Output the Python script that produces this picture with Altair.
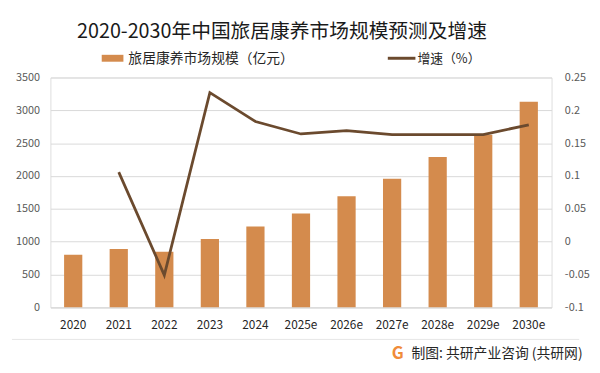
import altair as alt
import pandas as pd

years = ["2020", "2021", "2022", "2023", "2024", "2025e", "2026e", "2027e", "2028e", "2029e", "2030e"]
market_size = [800, 890, 845, 1040, 1230, 1430, 1690, 1960, 2290, 2630, 3130]
growth = [None, 0.106, -0.051, 0.227, 0.183, 0.164, 0.169, 0.163, 0.163, 0.163, 0.178]

left_ticks = [0, 500, 1000, 1500, 2000, 2500, 3000, 3500]
right_ticks = [-0.1, -0.05, 0, 0.05, 0.1, 0.15, 0.2, 0.25]

title_text = "2020-2030年中国旅居康养市场规模预测及增速"
legend_bar = "旅居康养市场规模（亿元）"
legend_line = "增速（%）"
footer_text = "制图: 共研产业咨询 (共研网)"

FONT = "Noto Sans CJK SC"
BAR_COLOR = "#D48B4D"
LINE_COLOR = "#6B4A2E"

df = pd.DataFrame({"year": years, "size": market_size, "growth": growth})

x_enc = alt.X(
    "year:N",
    sort=years,
    scale=alt.Scale(paddingInner=0.6, paddingOuter=0.3),
    axis=alt.Axis(
        title=None, labelAngle=0, ticks=False, domain=True, domainColor="#d9d9d9",
        labelFontSize=12, labelColor="#262626", labelPadding=12, labelFont=FONT,
    ),
)

bars = alt.Chart(df).mark_bar(color=BAR_COLOR).encode(
    x=x_enc,
    y=alt.Y(
        "size:Q",
        scale=alt.Scale(domain=[0, 3500], nice=False),
        axis=alt.Axis(
            title=None, values=left_ticks, ticks=False, domain=False, format="d",
            grid=True, gridColor="#d9d9d9", labelFontSize=11, labelColor="#595959",
            labelPadding=11, labelFont=FONT,
        ),
    ),
)

line = alt.Chart(df).transform_filter("datum.growth != null").mark_line(
    color=LINE_COLOR, strokeWidth=2.8
).encode(
    x=alt.X("year:N", sort=years),
    y=alt.Y(
        "growth:Q",
        scale=alt.Scale(domain=[-0.1, 0.25], nice=False, zero=False),
        axis=alt.Axis(
            title=None, orient="right", values=right_ticks, ticks=False, domain=False,
            grid=False, labelFontSize=11, labelColor="#595959", labelPadding=13,
            labelFont=FONT, labelExpr="'' + round(datum.value * 100) / 100",
        ),
    ),
)

one = alt.Data(values=[{"a": 1}])

title = alt.Chart(one).mark_text(
    text=title_text, font=FONT, fontSize=20, color="#1a1a1a", align="left", baseline="middle"
).encode(x=alt.value(27), y=alt.value(-46))

leg_rect = alt.Chart(one).mark_rect(color=BAR_COLOR).encode(
    x=alt.value(52), x2=alt.value(74), y=alt.value(-23), y2=alt.value(-16)
)
leg_rect_text = alt.Chart(one).mark_text(
    text=legend_bar, font=FONT, fontSize=14, color="#262626", align="left", baseline="middle"
).encode(x=alt.value(79), y=alt.value(-19))

leg_line = alt.Chart(one).mark_rule(color=LINE_COLOR, strokeWidth=3).encode(
    x=alt.value(342), x2=alt.value(370), y=alt.value(-19.5)
)
leg_line_text = alt.Chart(one).mark_text(
    text=legend_line, font=FONT, fontSize=13, color="#262626", align="left", baseline="middle"
).encode(x=alt.value(372), y=alt.value(-19))

sep = alt.Chart(one).mark_rule(color="#e6e6e6", strokeWidth=1).encode(
    x=alt.value(-39), x2=alt.value(536), y=alt.value(265.5)
)
logo = alt.Chart(one).mark_text(
    text="G", font=FONT, fontSize=17, fontWeight="bold", color="#F08C3A", baseline="middle"
).encode(x=alt.value(352), y=alt.value(280))
footer = alt.Chart(one).mark_text(
    text=footer_text, font=FONT, fontSize=14, color="#262626", align="left", baseline="middle"
).encode(x=alt.value(366), y=alt.value(280))

chart = alt.layer(
    bars, line, title, leg_rect, leg_rect_text, leg_line, leg_line_text, sep, logo, footer
).resolve_scale(y="independent").properties(
    width=508,
    height=233,
    autosize=alt.AutoSizeParams(type="none"),
    padding={"left": 43, "top": 68, "right": 41, "bottom": 57},
).configure_view(stroke=None).configure(background="white")

chart.save("out.html", embed_options={"renderer": "svg", "actions": False})
